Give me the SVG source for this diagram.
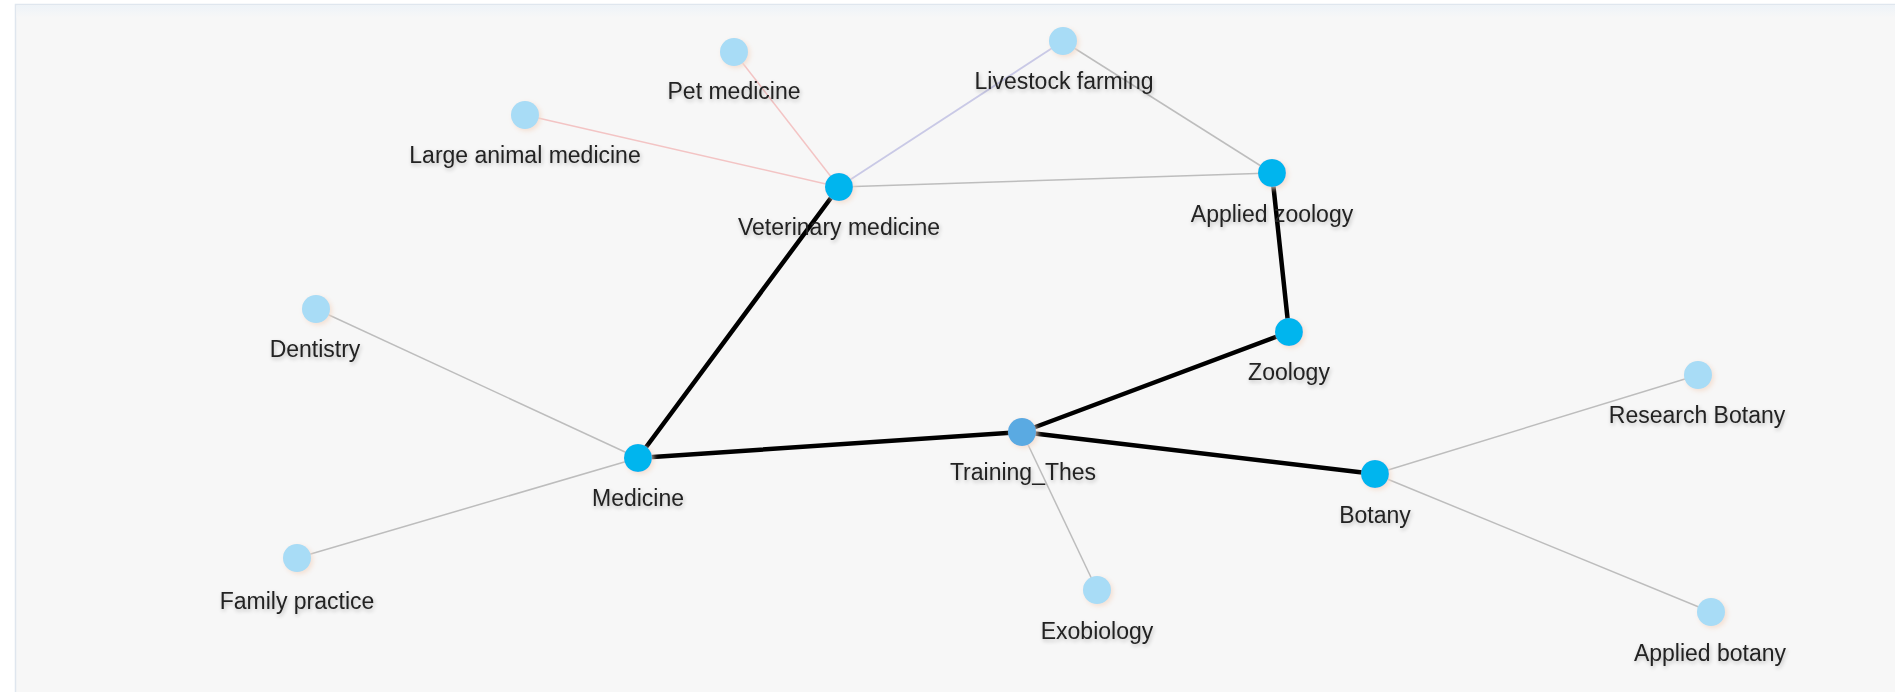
<svg xmlns="http://www.w3.org/2000/svg" width="1895" height="692" viewBox="0 0 1895 692">
<style>
  .lbl{font-family:"Liberation Sans",Arial,sans-serif;font-size:23px;fill:#222;text-anchor:middle;filter:url(#tsh)}
  .main{fill:#00b5ee;filter:url(#glow)}
  .root{fill:#5aaae2;filter:url(#glow)}
  .leaf{fill:#a8dcf6;filter:url(#glow)}
  .thin{stroke:#bdbdbd;stroke-width:1.5;fill:none}
  .pink{stroke:#f3c4c4;stroke-width:1.5;fill:none}
  .lav{stroke:#c9c9e6;stroke-width:1.8;fill:none}
  .thick{stroke:#000;stroke-width:4.5;fill:none;stroke-linecap:round}
</style>
<defs>
  <filter id="glow" x="-60%" y="-60%" width="220%" height="220%">
    <feGaussianBlur in="SourceAlpha" stdDeviation="2.5" result="b"/>
    <feOffset dx="2" dy="2" in="b" result="o"/>
    <feFlood flood-color="#f3d9c8" flood-opacity="0.8"/>
    <feComposite in2="o" operator="in" result="s"/>
    <feMerge><feMergeNode in="s"/><feMergeNode in="SourceGraphic"/></feMerge>
  </filter>
  <filter id="tsh" x="-10%" y="-40%" width="120%" height="180%">
    <feGaussianBlur in="SourceAlpha" stdDeviation="2" result="b"/>
    <feOffset dx="1" dy="2" in="b" result="o"/>
    <feComponentTransfer in="o" result="s"><feFuncA type="linear" slope="0.25"/></feComponentTransfer>
    <feMerge><feMergeNode in="s"/><feMergeNode in="SourceGraphic"/></feMerge>
  </filter>
  <linearGradient id="topg" x1="0" y1="0" x2="0" y2="1">
    <stop offset="0" stop-color="#eef3f8"/>
    <stop offset="1" stop-color="#f7f7f7"/>
  </linearGradient>
</defs>
<rect x="0" y="0" width="1895" height="692" fill="#ffffff"/>
<rect x="15.5" y="4.5" width="1890" height="700" fill="#f7f7f7" stroke="#dfe6ee" stroke-width="1.5"/>
<rect x="16.5" y="5.5" width="1880" height="12" fill="url(#topg)"/>
<g id="connectors">
  <line class="pink" x1="839" y1="187" x2="525" y2="115"/>
  <line class="pink" x1="839" y1="187" x2="734" y2="52"/>
  <line class="lav" x1="839" y1="187" x2="1063" y2="41"/>
  <line class="thin" x1="839" y1="187" x2="1272" y2="173"/>
  <line class="thin" x1="1063" y1="41" x2="1272" y2="173"/>
  <line class="thin" x1="638" y1="458" x2="316" y2="309"/>
  <line class="thin" x1="638" y1="458" x2="297" y2="558"/>
  <line class="thin" x1="1022" y1="432" x2="1097" y2="590"/>
  <line class="thin" x1="1375" y1="474" x2="1698" y2="375"/>
  <line class="thin" x1="1375" y1="474" x2="1711" y2="612"/>
  <line class="thick" x1="1272" y1="173" x2="1289" y2="332"/>
  <line class="thick" x1="1289" y1="332" x2="1022" y2="432"/>
  <line class="thick" x1="1022" y1="432" x2="638" y2="458"/>
  <line class="thick" x1="638" y1="458" x2="839" y2="187"/>
  <line class="thick" x1="1022" y1="432" x2="1375" y2="474"/>
</g>
<g id="n-pet"><circle class="leaf" cx="734" cy="52" r="14"/><text class="lbl" x="734" y="99">Pet medicine</text></g>
<g id="n-large"><circle class="leaf" cx="525" cy="115" r="14"/><text class="lbl" x="525" y="163">Large animal medicine</text></g>
<g id="n-livestock"><circle class="leaf" cx="1063" cy="41" r="14"/><text class="lbl" x="1064" y="89">Livestock farming</text></g>
<g id="n-vet"><circle class="main" cx="839" cy="187" r="14"/><text class="lbl" x="839" y="235">Veterinary medicine</text></g>
<g id="n-appzoo"><circle class="main" cx="1272" cy="173" r="14"/><text class="lbl" x="1272" y="222">Applied zoology</text></g>
<g id="n-dent"><circle class="leaf" cx="316" cy="309" r="14"/><text class="lbl" x="315" y="357">Dentistry</text></g>
<g id="n-zoo"><circle class="main" cx="1289" cy="332" r="14"/><text class="lbl" x="1289" y="380">Zoology</text></g>
<g id="n-resbot"><circle class="leaf" cx="1698" cy="375" r="14"/><text class="lbl" x="1697" y="423">Research Botany</text></g>
<g id="n-med"><circle class="main" cx="638" cy="458" r="14"/><text class="lbl" x="638" y="506">Medicine</text></g>
<g id="n-train"><circle class="root" cx="1022" cy="432" r="14"/><text class="lbl" x="1023" y="480">Training_Thes</text></g>
<g id="n-bot"><circle class="main" cx="1375" cy="474" r="14"/><text class="lbl" x="1375" y="523">Botany</text></g>
<g id="n-fam"><circle class="leaf" cx="297" cy="558" r="14"/><text class="lbl" x="297" y="609">Family practice</text></g>
<g id="n-exo"><circle class="leaf" cx="1097" cy="590" r="14"/><text class="lbl" x="1097" y="639">Exobiology</text></g>
<g id="n-appbot"><circle class="leaf" cx="1711" cy="612" r="14"/><text class="lbl" x="1710" y="661">Applied botany</text></g>
</svg>
